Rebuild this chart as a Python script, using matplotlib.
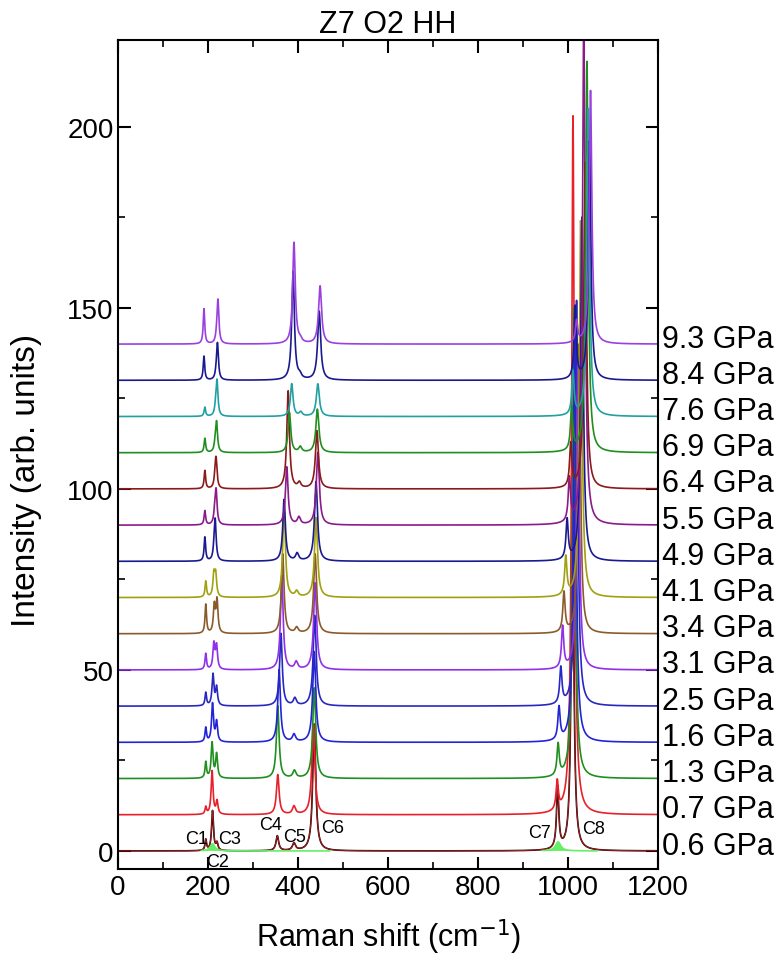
import numpy as np
import matplotlib
matplotlib.use("Agg")
import matplotlib.pyplot as plt
from matplotlib.ticker import MultipleLocator

plt.rcParams['font.family'] = ['Liberation Sans', 'DejaVu Sans']

# pressures (GPa) and vertical offsets of the stacked spectra
pressures = [0.6, 0.7, 1.3, 1.6, 2.5, 3.1, 3.4, 4.1, 4.9, 5.5, 6.4, 6.9, 7.6, 8.4, 9.3]
offsets = [0, 10, 20, 30, 40, 50, 60, 70, 80, 90, 100, 110, 120, 130, 140]

# peak centres (cm-1) and heights for modes C1..C8 at every pressure
c1_pos = [195, 195, 195, 195, 195, 195, 195, 195, 193, 193, 193, 193, 193, 191, 191]
c1_h = [3, 2, 4.4, 3.9, 3.6, 4.4, 8, 4.4, 6.6, 3.9, 5, 3.9, 2.5, 6.6, 9.7]
c2_pos = [210, 209, 209, 210, 211, 213, 214, 213, 214, 215, 216, 216, 217, 218, 219]
c2_h = [11, 12, 9.7, 10.5, 8.6, 7, 7.5, 6, 3, 3, 3, 2, 2, 1, 1]
c3_pos = [220, 220, 219, 219, 219, 219, 220, 217, 216, 218, 218, 219, 220, 221, 222]
c3_h = [2, 3.6, 6.6, 5.5, 5, 6.4, 9, 6, 10, 9, 7, 8, 9.5, 10, 12]
c4_pos = [354, 355, 355, 358, 362, 364, 366, 369, 369, 375, 378, 381, 386, 389, 391]
c4_h = [4.1, 11, 20, 20, 20, 26, 22, 25, 17, 16, 27, 11, 9, 30, 28]
c5_pos = [391, 391, 392, 391, 393, 396, 397, 397, 398, 402, 403, 405, 406, 404, 405]
c5_h = [2, 2.2, 2, 2, 2, 2, 1.5, 1.5, 2, 2, 1.5, 1.5, 1.1, 1, 0.8]
c6_pos = [436, 434, 436, 436, 437, 438, 438, 440, 440, 444, 442, 443, 444, 447, 449]
c6_h = [35, 25, 25, 25, 25, 24, 22, 22, 22, 20, 16, 12, 9, 19, 16]
c7_pos = [977, 976, 978, 980, 984, 988, 991, 995, 998, 1003, 1006, 1008, 1011, 1016, 1019]
c7_h = [17, 8, 8.7, 9, 10, 11.5, 11, 10.6, 11, 12, 12, 12, 12, 20, 6]
c8_pos = [1010, 1011, 1013, 1015, 1019, 1022, 1025, 1028, 1031, 1035, 1038, 1042, 1045, 1048, 1050]
c8_h = [95, 193, 130, 119, 112, 85, 80, 104, 95, 138, 90, 108, 85, 66, 70]

# half widths of the bands C1..C8
hwhm = [2.0, 2.5, 2.5, 3.5, 4.0, 4.0, 3.0, 3.5]

# fitted components shaded under the lowest spectrum
fill_pos = [210, 978]
fill_h = [2.0, 2.5]
fill_w = [6, 7]

peak_labels = ["C1", "C2", "C3", "C4", "C5", "C6", "C7", "C8"]
label_x = [175, 222, 247, 340, 393, 476, 936, 1056]
label_y = [3.3, -3, 3.3, 7.2, 4.1, 6.4, 5.2, 6.1]

colors = ['#000000', '#E8202A', '#1F8F1F', '#2323D8', '#2828C0', '#9030E8',
          '#8B5A2B', '#A0A010', '#1A1A90', '#8B1A8B', '#8B1A1A', '#1F8F1F',
          '#20A0A0', '#1A1A90', '#9A40E0']

x = np.linspace(0, 1200, 4801)


def lorentz(x, c, h, w):
    return h * w**2 / ((x - c)**2 + w**2)


positions = [c1_pos, c2_pos, c3_pos, c4_pos, c5_pos, c6_pos, c7_pos, c8_pos]
heights = [c1_h, c2_h, c3_h, c4_h, c5_h, c6_h, c7_h, c8_h]

fig = plt.figure(figsize=(7.79, 9.62), dpi=100)
ax = fig.add_axes([0.1515, 0.0956, 0.6932, 0.8618])

for i, p in enumerate(pressures):
    y = np.zeros_like(x)
    for pos, h, w in zip(positions, heights, hwhm):
        y += lorentz(x, pos[i], h[i], w)
    y += offsets[i]
    ax.plot(x, y, color=colors[i], lw=1.2)
    if i == 0:
        # fit drawn on top of the lowest spectrum
        ax.plot(x, y, color='#E02020', lw=0.7, alpha=0.8)
    ax.text(1208, offsets[i] + 1.5, f"{p} GPa", fontsize=22, va='center',
            ha='left', clip_on=False)

comp = np.zeros_like(x)
for c, h, w in zip(fill_pos, fill_h, fill_w):
    comp += lorentz(x, c, h, w)
mask = ((x > 185) & (x < 470)) | ((x > 945) & (x < 1065))
ax.fill_between(x, 0, comp, where=mask, color='#66EE66', lw=0)
ax.plot(np.where(mask, x, np.nan), np.where(mask, comp, np.nan), color='#66EE66', lw=1.2)

for lab, lx, ly in zip(peak_labels, label_x, label_y):
    ax.text(lx, ly, lab, fontsize=13, ha='center', va='center')

ax.set_xlim(0, 1200)
ax.set_ylim(-5, 224)
ax.xaxis.set_major_locator(MultipleLocator(200))
ax.xaxis.set_minor_locator(MultipleLocator(100))
ax.yaxis.set_major_locator(MultipleLocator(50))
ax.yaxis.set_minor_locator(MultipleLocator(25))
ax.tick_params(which='both', direction='in', top=True, right=True, labelsize=20)
ax.tick_params(axis='y', pad=3)
ax.tick_params(which='major', length=9, width=1.5)
ax.tick_params(which='minor', length=5, width=1.2)
for s in ax.spines.values():
    s.set_linewidth(1.5)

ax.set_title("Z7 O2 HH", fontsize=22, pad=6)
ax.set_xlabel("Raman shift (cm$^{-1}$)", fontsize=22, labelpad=12)
ax.set_ylabel("Intensity (arb. units)", fontsize=24)
ax.yaxis.set_label_coords(-0.14, 0.47)

fig.savefig("out.png", dpi=100)
